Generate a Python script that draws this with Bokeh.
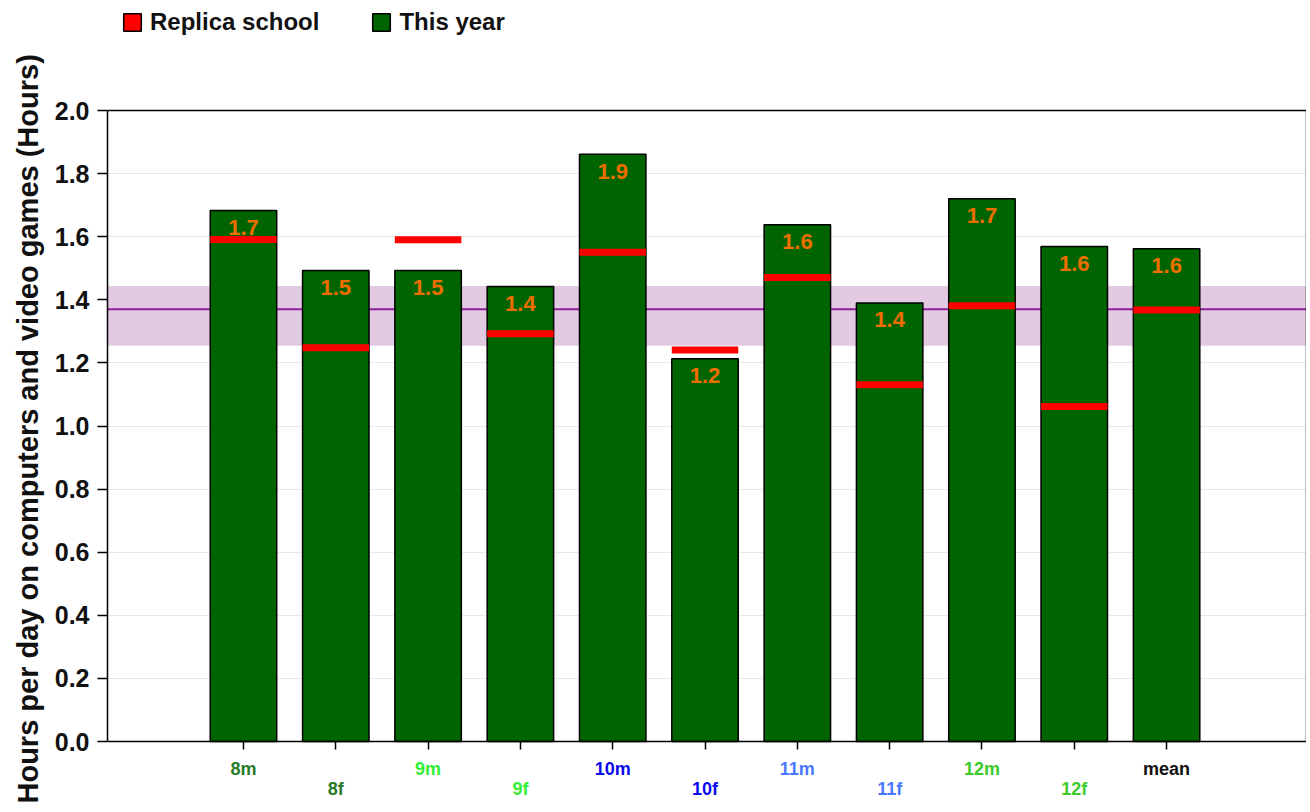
from bokeh.plotting import figure
from bokeh.models import (Range1d, FixedTicker, NumeralTickFormatter, Legend, LinearAxis,
                          LegendItem, BoxAnnotation, Span, ColumnDataSource, Title)
from bokeh.core.properties import value
from bokeh.embed import file_html
from bokeh.resources import INLINE

# ---- data ----
categories = ["8m", "8f", "9m", "9f", "10m", "10f", "11m", "11f", "12m", "12f", "mean"]
this_year = [1.683, 1.493, 1.493, 1.442, 1.861, 1.213, 1.638, 1.390, 1.720, 1.569, 1.562]
replica_school = [1.591, 1.248, 1.590, 1.292, 1.551, 1.241, 1.471, 1.131, 1.381, 1.062, 1.368]
label_colors = ["#277a27", "#277a27", "#33f033", "#33f033", "#0a0aee", "#0a0aee",
                "#4a78ff", "#4a78ff", "#3ccb2a", "#3ccb2a", "#111111"]
band_low, band_high = 1.254, 1.444
band_mid = 1.370
y_ticks = [0.0, 0.2, 0.4, 0.6, 0.8, 1.0, 1.2, 1.4, 1.6, 1.8, 2.0]
y_axis_bounds = (0.0, 2.0)
y_title = "Hours per day on computers and video games (Hours)"

# layout constants (two staggered rows of category labels below the axis)
label_row_y = [-0.0856, -0.152]

xs = list(range(len(categories)))
value_labels = [f"{v:.1f}" for v in this_year]
src = ColumnDataSource(dict(x=xs, top=this_year, rep=replica_school, lab=value_labels))
cat_src = ColumnDataSource(dict(x=xs, y=[label_row_y[i % 2] for i in xs],
                                text=categories, color=label_colors))

FRAME_W = 1199
FRAME_H = 810
PX_PER_UNIT_Y = 315.5
PX_PER_UNIT_X = 92.31
ZERO_FROM_TOP = 741
y_end = ZERO_FROM_TOP / PX_PER_UNIT_Y
y_start = -(FRAME_H - ZERO_FROM_TOP) / PX_PER_UNIT_Y
x_start = -1.473
x_end = x_start + FRAME_W / PX_PER_UNIT_X

p = figure(output_backend="svg", toolbar_location=None, title=None,
           frame_width=FRAME_W, frame_height=FRAME_H,
           min_border_left=107, min_border_right=0, min_border_top=0, min_border_bottom=0,
           x_range=Range1d(x_start, x_end), y_range=Range1d(y_start, y_end))

p.background_fill_color = "white"
p.border_fill_color = "white"
p.outline_line_color = None

# grid
p.xgrid.visible = False
p.ygrid.grid_line_color = "#e9e9e9"
p.ygrid.grid_line_width = 1
p.ygrid.ticker = FixedTicker(ticks=y_ticks)

# band and mean line
band = BoxAnnotation(bottom=band_low, top=band_high, fill_color="#e2cae3", fill_alpha=1.0,
                     line_color=None, level="underlay")
p.add_layout(band)
mid = Span(location=band_mid, dimension="width", line_color="#8e1f98", line_width=2,
           level="underlay")
p.add_layout(mid)

# top border of the plotting area
p.add_layout(Span(location=y_axis_bounds[1], dimension="width", line_color="black",
                  line_width=1.5))

# bars
bars = p.vbar(x="x", top="top", width=0.72, source=src, fill_color="#006400",
              line_color="black", line_width=1.5)

# value labels
p.text(x="x", y="top", text="lab", source=src, text_align="center", text_baseline="middle",
       y_offset=17, text_font=value("Liberation Sans"), text_font_style="bold",
       text_font_size="22px", text_color="#ee6e00")

# replica school markers
reds = p.rect(x="x", y="rep", width=0.72, height=7, height_units="screen", source=src,
              fill_color="#ff0000", line_color=None)

# staggered, coloured category labels
p.text(x="x", y="y", text="text", text_color="color", source=cat_src, text_align="center",
       text_baseline="middle", text_font=value("Liberation Sans"), text_font_style="bold",
       text_font_size="18px")

# legend-only renderers (NaN positions: nothing drawn in the plot)
nan = float("nan")
leg_red = p.rect(x=[nan], y=[nan], width=0.1, height=0.1, fill_color="#ff0000",
                 line_color="black", line_width=1.5)
leg_green = p.rect(x=[nan], y=[nan], width=0.1, height=0.1, fill_color="#006400",
                   line_color="black", line_width=1.5)
legend = Legend(items=[LegendItem(label="Replica school", renderers=[leg_red]),
                       LegendItem(label="This year", renderers=[leg_green])],
                orientation="horizontal", location=(14, FRAME_H - 8 - 28),
                glyph_width=22, glyph_height=22, label_standoff=7, spacing=51,
                label_text_font="Liberation Sans", label_text_font_style="bold",
                label_text_font_size="24px", label_text_color="#111111",
                border_line_color=None, background_fill_alpha=0, padding=0, margin=0)
p.add_layout(legend)

# axes
yax = p.yaxis[0]
yax.bounds = y_axis_bounds
yax.ticker = FixedTicker(ticks=y_ticks)
yax.formatter = NumeralTickFormatter(format="0.0")
yax.major_label_text_font = "Liberation Sans"
yax.major_label_text_font_style = "bold"
yax.major_label_text_font_size = "25px"
yax.major_label_text_color = "#111111"
yax.major_label_standoff = 8
yax.major_tick_out = 10
yax.major_tick_in = 0
yax.minor_tick_out = 0
yax.minor_tick_in = 0
yax.axis_line_width = 1.5
yax.major_tick_line_width = 1.5

# y axis title, anchored near the bottom like the reference
p.add_layout(Title(text=y_title, align="left", offset=7, standoff=15,
                   text_font="Liberation Sans", text_font_style="bold",
                   text_font_size="29px", text_color="#111111"), "left")

xax = p.xaxis[0]
xax.fixed_location = 0.0
xax.ticker = FixedTicker(ticks=xs)
xax.major_label_overrides = {i: "" for i in xs}
xax.major_tick_out = 8
xax.major_tick_in = 0
xax.minor_tick_out = 0
xax.minor_tick_in = 0
xax.axis_line_width = 1.5
xax.major_tick_line_width = 1.5

# right border of the plotting area
rax = LinearAxis(bounds=y_axis_bounds, ticker=FixedTicker(ticks=[]), axis_line_width=1.5,
                 major_tick_out=0, major_tick_in=0, minor_tick_out=0, minor_tick_in=0,
                 major_label_standoff=0, axis_label_standoff=0)
p.add_layout(rax, "right")

open("out.html", "w").write(file_html(p, INLINE))
